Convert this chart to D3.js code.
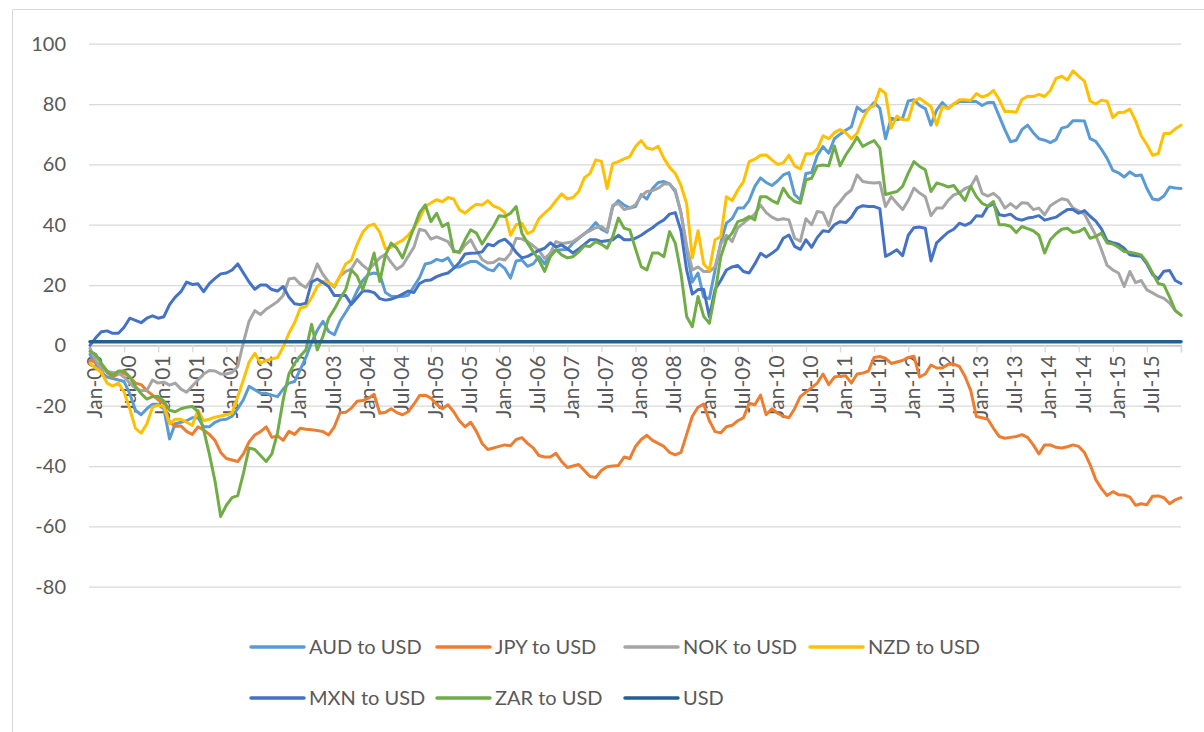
<!DOCTYPE html>
<html>
<head>
<meta charset="utf-8">
<script src="https://cdn.jsdelivr.net/npm/d3@7"></script>
<style>
  body { margin: 0; background: #fff; }
  text { font-family: Lato, "Open Sans", sans-serif; fill: #595959; }
</style>
</head>
<body>
<div id="chart"></div>
<script>
// Categories: one point per month, Jan-2000 .. Jan-2016
const firstMonth = new Date(2000, 0, 1);
const monthCount = 193;

const tickLabels = ["Jan-00","Jul-00","Jan-01","Jul-01","Jan-02","Jul-02","Jan-03","Jul-03",
  "Jan-04","Jul-04","Jan-05","Jul-05","Jan-06","Jul-06","Jan-07","Jul-07",
  "Jan-08","Jul-08","Jan-09","Jul-09","Jan-10","Jul-10","Jan-11","Jul-11",
  "Jan-12","Jul-12","Jan-13","Jul-13","Jan-14","Jul-14","Jan-15","Jul-15"];

const yTicks = [100, 80, 60, 40, 20, 0, -20, -40, -60, -80];

// series values, one row per year (last value = Jan-16)
const aud = [
  -3, -6, -9, -10.5, -11, -11.5, -12, -16, -21.5, -23, -21, -19.5,
  -19.5, -21, -31, -26, -25.5, -25, -24, -24, -27, -27, -25.5, -24.7,
  -24.5, -23.5, -21, -18, -13.6, -14.7, -15.9, -15.9, -16.5, -17, -14.5, -12.5,
  -12, -8, -4, 1, 5, 8, 4.6, 3.5, 8, 11, 14, 18,
  21.5, 23.5, 24, 23.5, 17.5, 16.3, 16.2, 16.2, 16.6, 19.5, 22.5, 27,
  27.4, 28.5, 28, 29, 26, 26, 27, 27.8, 27.8, 26.5, 25.2, 24.7,
  27, 25.5, 22.3, 28, 28.3, 26.2, 27, 29.4, 27, 30.5, 31.5, 31.7,
  31.8, 33.9, 35.5, 37, 38.5, 40.7, 38.5, 37.5, 46, 48, 46.5, 45.5,
  46, 50, 48.5, 52, 54, 54.3, 53.5, 51, 44, 32, 21, 24,
  16, 15.5, 25, 34, 40.5, 42, 45.5, 45.5, 48, 52.7, 55.5, 54,
  53, 54.5, 56.5, 57.3, 50, 48.2, 57, 57.3, 63, 65.9, 63.7, 68.5,
  70, 71.3, 72.5, 79, 77.5, 78.3, 80.5, 78.6, 68.5, 75.3, 74.8, 75.3,
  81, 81.4, 79.5, 78.5, 73, 78, 80.5, 78.5, 80, 80.8, 80.8, 80.8,
  80.8, 79.5, 80.5, 80.5, 76, 71.5, 67.5, 68, 71.5, 73, 70.5, 68.5,
  68, 67.2, 68.2, 72, 72.5, 74.5, 74.5, 74.4, 68.5, 67.6, 65, 62,
  58, 57.2, 55.8, 57.5, 56.2, 56.5, 52, 48.5, 48.2, 49.5, 52.5, 52.2,
  52
];

const jpy = [
  -5, -5.5, -7, -9, -10.5, -9.5, -9.2, -10.5, -12.5, -13, -15, -16.5,
  -18.1, -19.3, -25.5, -26.8, -26.7, -28.5, -29.5, -27, -28, -29.5, -31.5, -35.5,
  -37.5, -38, -38.5, -36, -32, -29.7, -28.6, -27, -30.5, -30, -31.5, -28.5,
  -29.5, -27.5, -27.8, -28, -28.2, -28.6, -29.7, -27, -22.3, -22.2, -20.8, -18.5,
  -18.3, -17.5, -16.2, -22.5, -22.2, -21, -22.3, -23, -22, -19.5, -16.6, -16.5,
  -17.5, -19.5, -21, -19.7, -22, -25, -27, -25.5, -28.5, -32.5, -34.5, -34,
  -33.5, -33, -33.3, -31.2, -30.6, -32.5, -34, -36.5, -37, -37, -35.8, -38.5,
  -40.5, -40, -39.5, -41.5, -43.5, -43.8, -41.5, -40.2, -40, -39.8, -37, -37.5,
  -33.5, -31.2, -29.8, -31.5, -32.5, -33.5, -35.5, -36.3, -35.5, -29.5, -23.5, -20.5,
  -19.5, -25, -28.6, -29, -27, -26.5, -25, -24, -19.2, -19.7, -16.5, -23,
  -21, -22.5, -23.5, -24, -21, -17, -15.5, -14, -12.5, -9.5, -13, -10.5,
  -10.2, -10.1, -12.5, -9.5, -9.2, -8.5, -4, -3.7, -4.3, -6, -5.5, -5,
  -4, -3.6, -10.5, -9.5, -6.5, -7.5, -7.5, -6.3, -6.2, -7, -10.3, -15,
  -23.6, -24, -24.5, -27.5, -30.2, -30.8, -30.5, -30.2, -29.6, -30.5, -33, -36,
  -33, -33, -33.8, -34, -33.6, -33, -33.5, -35.5, -39.5, -44.5, -47.5, -49.8,
  -48.5, -49.5, -49.6, -50.3, -53, -52.5, -52.8, -50, -49.9, -50.5, -52.5, -51.2,
  -50.5
];

const nok = [
  -1, -5, -8, -8.7, -9, -9.2, -10.5, -12.5, -14.2, -15, -15, -11.5,
  -12.5, -12.2, -13.2, -12.5, -14.5, -15.5, -13.5, -11.5, -9.5, -8.3, -8.5, -9.5,
  -9.5, -9, -7, 1, 8, 11.5, 10.2, 12, 13.2, 14.5, 16.5, 22,
  22.3, 20.3, 19.2, 22, 27, 23.5, 21, 19.3, 23, 24.5, 25.3, 28.5,
  26.5, 25, 27, 29, 30.2, 27.5, 25.2, 26.5, 29.5, 32.5, 38.5, 38,
  35.2, 36, 35.2, 34.4, 31.5, 30.7, 33.2, 35, 31.5, 28.5, 27.3, 27.5,
  28.7, 28.3, 30.5, 35.5, 35.3, 34.4, 33, 31.5, 28.8, 30.5, 34.4, 33.8,
  34, 34.4, 35.7, 37, 38, 39, 39.4, 38, 46.5, 47.1, 45, 45.5,
  46.6, 49.5, 51, 51.3, 52.1, 53.5, 53.5, 51.5, 44, 33, 25, 26,
  24.5, 24.5, 26, 33.5, 36.5, 34.4, 39, 40.5, 42, 43.5, 46.5, 44,
  42.5, 41.6, 42, 41.6, 35.5, 34.5, 42, 40, 44.4, 44, 39.6, 45.5,
  47.6, 50, 51.5, 56.5, 54.3, 54, 53.8, 54, 46, 49.3, 47.1, 45,
  48, 52.1, 50.5, 49.3, 43, 45.5, 45.5, 48, 49.9, 50.5, 52, 52.7,
  56, 50.4, 49.5, 50.4, 48.8, 45.5, 47, 45.5, 47.3, 47.1, 45, 45.5,
  43.3, 46.3, 47.5, 48.6, 48.2, 45.5, 44.6, 43.5, 40, 36.5, 31.7, 26.5,
  25, 24, 19.5, 24.5, 20.8, 21.5, 18.4, 17.4, 16.3, 15.6, 14, 11.5,
  10
];

const nzd = [
  -6, -7.5, -9, -12.5, -13.5, -12.5, -15.5, -21, -27.5, -29.1, -26, -20.5,
  -19.8, -20.3, -26, -24.5, -24.5, -25.5, -26.5, -21.5, -25, -24.5, -23.8, -23.4,
  -23, -22.5, -17, -11.4, -5.5, -2.6, -5.9, -5, -4.5, -4, -0.5, 4,
  7.5, 12.3, 12.9, 15.8, 19.5, 21.2, 20.8, 19.7, 23, 27, 28.3, 33.5,
  37.5, 39.6, 40.2, 37.5, 32, 32.5, 33.8, 34.8, 36.5, 38.8, 42, 46,
  47.2, 48.3, 47.6, 49, 48.5, 45, 43.8, 45.5, 46.8, 46.5, 48, 46.2,
  45.5, 44, 36.5, 40, 40.5, 37, 38, 42, 43.8, 45.5, 48, 50.2,
  48.5, 49, 51, 55.5, 57, 61.5, 61, 52, 60.3, 60.9, 61.8, 62.6,
  65.9, 67.9, 65.4, 65, 66, 62, 59, 57, 53, 47, 29, 38,
  27, 25, 35, 36, 49.3, 48, 51.5, 54.3, 60.9, 61.7, 63, 63.1,
  61.5, 60, 60.5, 63, 59.5, 58.5, 63.5, 63.5, 65, 69.5, 68.5, 70.5,
  71.5, 70.5, 68.5, 70.3, 75, 78.6, 79.5, 85, 83.5, 72, 76, 74.8,
  74.8, 81, 81.9, 80.5, 79.2, 73, 79.2, 78.5, 80, 81.4, 81.4, 81.2,
  83.5, 82.3, 83, 84.5, 81.5, 77.5, 77.5, 77.3, 81.5, 82.6, 82.5, 83.2,
  82.5, 84.5, 88.5, 89.2, 88, 91, 89.2, 87.6, 81, 80, 81.3, 80.9,
  75.5, 77.2, 77.3, 78.3, 74.5, 69.5, 66.5, 63, 63.6, 70.2, 70.2, 71.8,
  73
];

const mxn = [
  0, 2.5, 4.5, 4.8, 4, 4, 6, 9, 8.3, 7.5, 9, 9.8,
  9, 9.5, 13.5, 16, 17.8, 21, 20.2, 20.4, 17.8, 20.5, 22.2, 23.7,
  24, 25, 27, 24, 21, 18.6, 20, 20, 18.5, 18, 19.5, 16,
  13.8, 13.5, 14, 21, 22, 20.8, 19.5, 16.5, 16.5, 16.5, 13.6, 15.8,
  18, 18, 17.5, 15.5, 15, 15.3, 16, 17, 18, 17.5, 20.5, 21.5,
  21.7, 22.8, 23.5, 24, 25.5, 27.5, 30.3, 30.5, 30.6, 31, 33.5, 33,
  34.5, 35.2, 33.5, 30.8, 29, 29.5, 30.5, 31.5, 32.2, 34, 32.6, 33.3,
  32, 30.6, 32, 33.5, 35, 35, 34.4, 34.7, 35, 36.5, 35, 35,
  35.5, 36.5, 37.8, 39, 40.5, 41.6, 43.5, 44, 38, 25, 17, 18.5,
  18.5, 9.5, 18.5, 21.5, 25, 26, 26.5, 24.5, 24, 27, 30.5, 29.3,
  30.5, 32, 35.5, 36.6, 32.8, 31.8, 35, 32.5, 35.8, 38, 37.7, 40,
  41, 40.7, 42.5, 45.5, 46.3, 46, 46, 45.3, 29.5, 30.5, 31.7, 29.7,
  36.5, 39, 39.2, 38.8, 28, 34, 35.8, 37.5, 38.5, 40.5, 39.8, 40.7,
  43, 42.8, 46, 47, 43.3, 43, 43.5, 42, 41.5, 42.2, 42.5, 43,
  41.5, 42, 42.5, 43.8, 45, 45, 43.8, 44.7, 42.8, 41.2, 38.6, 34.6,
  34, 33.5, 32.2, 30, 29.7, 29.5, 27, 23.5, 22, 24.6, 24.8, 21.5,
  20.5
];

const zar = [
  -2, -3, -6, -8.5, -10, -8.5, -8.5, -10.5, -13.6, -16, -17.8, -17,
  -16.9, -18.5, -21.5, -22, -21, -20.5, -20.3, -22, -28, -36, -45, -56.7,
  -53, -50.5, -49.8, -42.4, -34, -34.5, -36.5, -38.5, -36, -29, -18, -9.5,
  -6, -3.5, -1.5, 7, -1.5, 3, 9, 12, 15.5, 18.5, 25, 23,
  18.5, 24, 30.6, 21.2, 30, 33.9, 32.2, 29, 34, 39, 44, 46.6,
  41, 43.8, 39.4, 40.5, 31, 31, 35, 38.3, 37.2, 33.6, 36.6, 39.4,
  43, 42.7, 43.8, 46, 37.2, 33.9, 31.1, 28.3, 24.5, 29.4, 31.7, 30,
  29, 29.4, 31, 33, 32.8, 34.4, 33.5, 32.2, 36.1, 42.2, 38.8, 38.3,
  32, 26.1, 25, 30.6, 30.6, 29.4, 37.7, 33.9, 23.9, 9.6, 6.2, 16.2,
  9.6, 7.3, 17.3, 29.4, 35, 37.2, 41, 41.6, 42.7, 41.6, 49.3, 49.3,
  48, 47.1, 52.1, 49.3, 47.7, 47.1, 54.9, 55.4, 59.5, 59.8, 59.5, 66.1,
  59.5, 63.1, 65.9, 69, 65.9, 67, 67.9, 65.4, 50, 50.5, 51, 52.7,
  57.1, 60.9, 59.3, 58.2, 51, 53.8, 53.3, 52.5, 53, 50.5, 48, 52.7,
  49.3, 47.1, 46.2, 47.7, 40, 40, 39.5, 37.4, 39.4, 38.7, 38, 36.5,
  30.6, 35, 37, 38.5, 38.8, 37.4, 37.7, 38.8, 35.5, 36.1, 37.2, 33.9,
  33.6, 32.5, 31.1, 30.9, 30.5, 30, 27.5, 24, 20.5, 20, 16, 11.5,
  10
];

// USD against itself: flat line
const usd = aud.map(() => 1.2);

const seriesNames = ["AUD to USD", "JPY to USD", "NOK to USD", "NZD to USD", "MXN to USD", "ZAR to USD", "USD"];
const seriesColors = ["#5B9BD5", "#ED7D31", "#A5A5A5", "#FFC000", "#4472C4", "#70AD47", "#255E91"];
const seriesValues = [aud, jpy, nok, nzd, mxn, zar, usd];

const months = d3.range(monthCount).map(i => d3.timeMonth.offset(firstMonth, i));

const W = 1204, H = 732;
const svg = d3.select("#chart").append("svg")
    .attr("width", W)
    .attr("height", H);

// chart area border (left and top edges visible)
svg.append("path")
    .attr("d", "M12.5,732 L12.5,9.5 L1204,9.5")
    .attr("fill", "none")
    .attr("stroke", "#d9d9d9")
    .attr("stroke-width", 1);

const x = d3.scaleLinear().domain([0, monthCount - 1]).range([90, 1181]);
const y = d3.scaleLinear().domain([-80, 100]).range([586.7, 43.7]);

// Horizontal gridlines + y labels (plain hyphen for negatives)
const yAxis = svg.append("g")
    .attr("transform", "translate(89,0)")
    .call(d3.axisLeft(y).tickValues(yTicks).tickSize(-(1181 - 89)).tickPadding(23)
        .tickFormat(d => String(d)));
yAxis.select(".domain").remove();
yAxis.selectAll("line").attr("stroke", "#d9d9d9").attr("stroke-width", 1.3);
yAxis.selectAll("text")
    .style("font-size", "20px")
    .attr("fill", "#595959");

// x axis at zero, tick every 6 months
const tickIdx = d3.range(0, monthCount, 6);
const xAxis = svg.append("g")
    .attr("transform", `translate(0,${y(0)})`)
    .call(d3.axisBottom(x).tickValues(tickIdx).tickSize(7).tickFormat(i => tickLabels[i / 6] || ""));
xAxis.select(".domain").attr("stroke", "#bfbfbf").attr("stroke-width", 1.3);
xAxis.selectAll("line").attr("stroke", "#d9d9d9").attr("stroke-width", 1.3);
xAxis.selectAll("text")
    .style("font-size", "21px")
    .attr("fill", "#595959")
    .attr("text-anchor", "end")
    .attr("transform", "translate(4,10) rotate(-90)")
    .attr("x", 0)
    .attr("y", 0)
    .attr("dy", "0.35em");

// Lines
const line = d3.line()
    .x((d, i) => x(i))
    .y(d => y(d));

seriesValues.forEach((vals, k) => {
    svg.append("path")
        .datum(vals)
        .attr("fill", "none")
        .attr("stroke", seriesColors[k])
        .attr("stroke-width", k === 6 ? 3.5 : 3)
        .attr("stroke-linejoin", "round")
        .attr("stroke-linecap", "round")
        .attr("d", line);
});

// Legend, two rows
const legendX = [251, 437, 625, 810];
const legendY = [647, 698];
seriesNames.forEach((name, k) => {
    const g = svg.append("g")
        .attr("transform", `translate(${legendX[k % 4]},${legendY[Math.floor(k / 4)]})`);
    g.append("line")
        .attr("x1", 0).attr("x2", 53)
        .attr("y1", 0).attr("y2", 0)
        .attr("stroke", seriesColors[k])
        .attr("stroke-width", 3.5)
        .attr("stroke-linecap", "round");
    g.append("text")
        .attr("x", 58)
        .attr("y", 0)
        .attr("dy", "0.35em")
        .style("font-size", "20px")
        .text(name);
});
</script>
</body>
</html>
